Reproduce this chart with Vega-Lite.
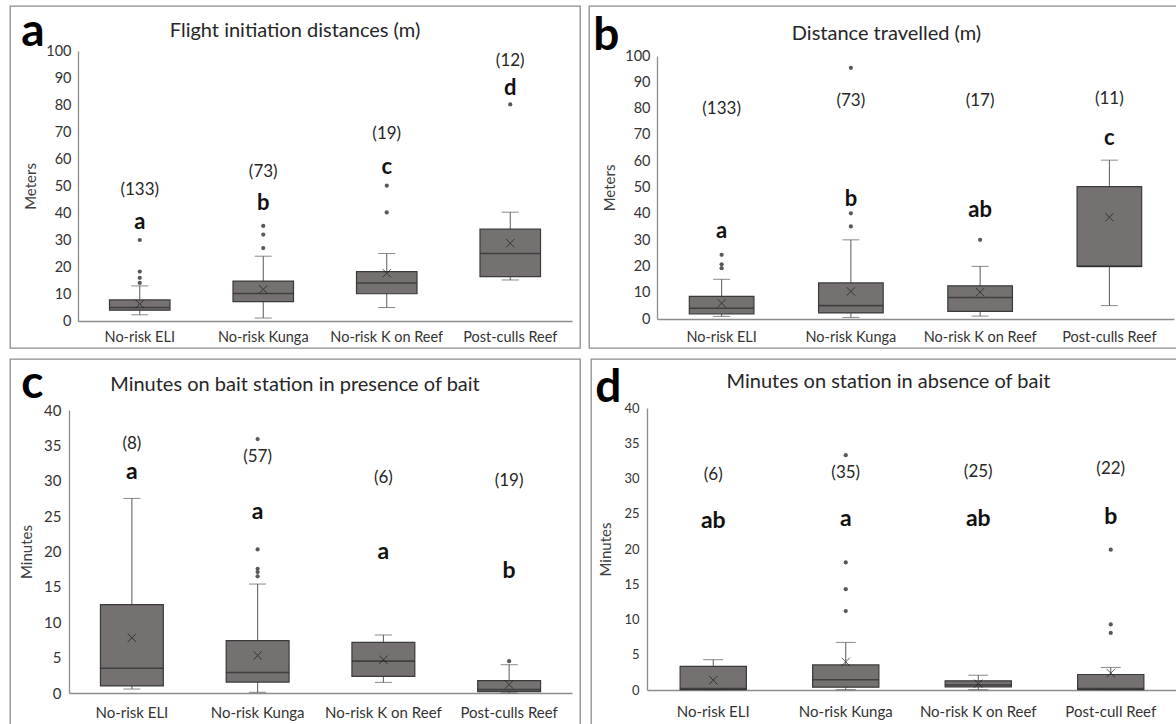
{
  "$schema": "https://vega.github.io/schema/vega-lite/v6.json",
  "padding": {"left": 9, "top": 5, "right": 0, "bottom": 0},
  "background": "white",
  "datasets": {
    "boxes": [
      {"panel": "a", "cat": "No-risk ELI", "q1": 4.0, "q3": 7.8, "med": 5.0, "lo": 2.3, "hi": 13, "mean": 6.3},
      {"panel": "a", "cat": "No-risk Kunga", "q1": 7.2, "q3": 14.8, "med": 10.2, "lo": 1.1, "hi": 24, "mean": 11.7},
      {"panel": "a", "cat": "No-risk K on Reef", "q1": 10.1, "q3": 18.3, "med": 14.1, "lo": 5, "hi": 25, "mean": 17.7},
      {"panel": "a", "cat": "Post-culls Reef", "q1": 16.4, "q3": 34, "med": 25, "lo": 15.2, "hi": 40.3, "mean": 28.8},
      {"panel": "b", "cat": "No-risk ELI", "q1": 1.9, "q3": 8.6, "med": 4.1, "lo": 1.0, "hi": 15.1, "mean": 6.0},
      {"panel": "b", "cat": "No-risk Kunga", "q1": 2.3, "q3": 13.7, "med": 5.1, "lo": 0.6, "hi": 30.1, "mean": 10.5},
      {"panel": "b", "cat": "No-risk K on Reef", "q1": 2.9, "q3": 12.6, "med": 8.2, "lo": 1.1, "hi": 20, "mean": 10.2},
      {"panel": "b", "cat": "Post-culls Reef", "q1": 20, "q3": 50.3, "med": 20, "lo": 5.1, "hi": 60.4, "mean": 38.7},
      {"panel": "c", "cat": "No-risk ELI", "q1": 1.0, "q3": 12.5, "med": 3.5, "lo": 0.56, "hi": 27.5, "mean": 7.8},
      {"panel": "c", "cat": "No-risk Kunga", "q1": 1.55, "q3": 7.4, "med": 2.9, "lo": 0.1, "hi": 15.4, "mean": 5.3},
      {"panel": "c", "cat": "No-risk K on Reef", "q1": 2.35, "q3": 7.15, "med": 4.5, "lo": 1.5, "hi": 8.2, "mean": 4.7},
      {"panel": "c", "cat": "Post-culls Reef", "q1": 0.2, "q3": 1.75, "med": 0.47, "lo": 0, "hi": 4.0, "mean": 1.2},
      {"panel": "d", "cat": "No-risk ELI", "q1": 0.05, "q3": 3.35, "med": 0.2, "lo": 0.05, "hi": 4.3, "mean": 1.4},
      {"panel": "d", "cat": "No-risk Kunga", "q1": 0.4, "q3": 3.55, "med": 1.45, "lo": 0.05, "hi": 6.75, "mean": 4.0},
      {"panel": "d", "cat": "No-risk K on Reef", "q1": 0.45, "q3": 1.3, "med": 0.7, "lo": 0.05, "hi": 2.1, "mean": 0.9},
      {"panel": "d", "cat": "Post-cull Reef", "q1": 0.05, "q3": 2.2, "med": 0.2, "lo": 0.05, "hi": 3.2, "mean": 2.4}
    ],
    "outliers": [
      {"panel": "a", "cat": "No-risk ELI", "v": 30},
      {"panel": "a", "cat": "No-risk ELI", "v": 18.3},
      {"panel": "a", "cat": "No-risk ELI", "v": 16},
      {"panel": "a", "cat": "No-risk ELI", "v": 14.1},
      {"panel": "a", "cat": "No-risk Kunga", "v": 27},
      {"panel": "a", "cat": "No-risk Kunga", "v": 32},
      {"panel": "a", "cat": "No-risk Kunga", "v": 35.2},
      {"panel": "a", "cat": "No-risk K on Reef", "v": 40.2},
      {"panel": "a", "cat": "No-risk K on Reef", "v": 50.1},
      {"panel": "a", "cat": "Post-culls Reef", "v": 80.2},
      {"panel": "b", "cat": "No-risk ELI", "v": 24.4},
      {"panel": "b", "cat": "No-risk ELI", "v": 20.8},
      {"panel": "b", "cat": "No-risk ELI", "v": 19.3},
      {"panel": "b", "cat": "No-risk Kunga", "v": 35.2},
      {"panel": "b", "cat": "No-risk Kunga", "v": 40.2},
      {"panel": "b", "cat": "No-risk Kunga", "v": 95.5},
      {"panel": "b", "cat": "No-risk K on Reef", "v": 30.1},
      {"panel": "c", "cat": "No-risk Kunga", "v": 20.3},
      {"panel": "c", "cat": "No-risk Kunga", "v": 17.55},
      {"panel": "c", "cat": "No-risk Kunga", "v": 17.1},
      {"panel": "c", "cat": "No-risk Kunga", "v": 16.5},
      {"panel": "c", "cat": "No-risk Kunga", "v": 35.9},
      {"panel": "c", "cat": "Post-culls Reef", "v": 4.5},
      {"panel": "d", "cat": "No-risk Kunga", "v": 11.2},
      {"panel": "d", "cat": "No-risk Kunga", "v": 14.3},
      {"panel": "d", "cat": "No-risk Kunga", "v": 18.1},
      {"panel": "d", "cat": "No-risk Kunga", "v": 33.3},
      {"panel": "d", "cat": "Post-cull Reef", "v": 8.1},
      {"panel": "d", "cat": "Post-cull Reef", "v": 9.3},
      {"panel": "d", "cat": "Post-cull Reef", "v": 19.9}
    ],
    "labels": [
      {"panel": "a", "cat": "No-risk ELI", "n": "(133)", "ny": 48.4, "letter": "a", "ly": 36.6},
      {"panel": "a", "cat": "No-risk Kunga", "n": "(73)", "ny": 55.3, "letter": "b", "ly": 43.6},
      {"panel": "a", "cat": "No-risk K on Reef", "n": "(19)", "ny": 69.2, "letter": "c", "ly": 57},
      {"panel": "a", "cat": "Post-culls Reef", "n": "(12)", "ny": 96.2, "letter": "d", "ly": 86.2},
      {"panel": "b", "cat": "No-risk ELI", "n": "(133)", "ny": 79.8, "letter": "a", "ly": 33.6},
      {"panel": "b", "cat": "No-risk Kunga", "n": "(73)", "ny": 82.8, "letter": "b", "ly": 45.5},
      {"panel": "b", "cat": "No-risk K on Reef", "n": "(17)", "ny": 82.8, "letter": "ab", "ly": 41.6},
      {"panel": "b", "cat": "Post-culls Reef", "n": "(11)", "ny": 83.8, "letter": "c", "ly": 68.8},
      {"panel": "c", "cat": "No-risk ELI", "n": "(8)", "ny": 35.2, "letter": "a", "ly": 31.2},
      {"panel": "c", "cat": "No-risk Kunga", "n": "(57)", "ny": 33.3, "letter": "a", "ly": 25.6},
      {"panel": "c", "cat": "No-risk K on Reef", "n": "(6)", "ny": 30.4, "letter": "a", "ly": 20},
      {"panel": "c", "cat": "Post-culls Reef", "n": "(19)", "ny": 29.9, "letter": "b", "ly": 17.3},
      {"panel": "d", "cat": "No-risk ELI", "n": "(6)", "ny": 30.5, "letter": "ab", "ly": 24},
      {"panel": "d", "cat": "No-risk Kunga", "n": "(35)", "ny": 30.8, "letter": "a", "ly": 24.2},
      {"panel": "d", "cat": "No-risk K on Reef", "n": "(25)", "ny": 30.9, "letter": "ab", "ly": 24.2},
      {"panel": "d", "cat": "Post-cull Reef", "n": "(22)", "ny": 31.3, "letter": "b", "ly": 24.5}
    ]
  },
  "spacing": 9,
  "vconcat": [
    {
      "spacing": 7,
      "hconcat": [
        {
          "title": {"text": "a", "anchor": "start", "offset": -51, "dx": 12, "fontSize": 46, "fontWeight": "bold", "color": "#000000"},
          "vconcat": [
            {
              "width": 570, "height": 342,
              "title": {"text": "Flight initiation distances (m)", "offset": -35},
              "encoding": {
                "x": {"field": "cat", "type": "nominal", "sort": ["No-risk ELI", "No-risk Kunga", "No-risk K on Reef", "Post-culls Reef"],
                      "scale": {"range": [68, 562], "paddingInner": 0, "paddingOuter": 0},
                      "axis": {"title": null, "offset": -27, "labelPadding": 9, "labelAngle": 0}}
              },
              "layer": [
                {"data": {"name": "boxes"}, "transform": [{"filter": "datum.panel === 'a'"}], "mark": {"type": "rule", "color": "#595959", "strokeWidth": 1},
                 "encoding": {"y": {"field": "lo", "type": "quantitative", "scale": {"domain": [0, 100], "range": [315, 45], "nice": false}, "axis": {"title": "Meters", "values": [0,10,20,30,40,50,60,70,80,90,100], "labelOverlap": false, "offset": -68, "labelPadding": 7, "titlePadding": 7}}, "y2": {"field": "hi"}}},
                {"data": {"name": "boxes"}, "transform": [{"filter": "datum.panel === 'a'"}], "mark": {"type": "tick", "color": "#595959", "size": 17, "thickness": 1},
                 "encoding": {"y": {"field": "lo", "type": "quantitative", "scale": {"domain": [0, 100], "range": [315, 45], "nice": false}, "axis": {"title": "Meters", "values": [0,10,20,30,40,50,60,70,80,90,100], "labelOverlap": false, "offset": -68, "labelPadding": 7, "titlePadding": 7}}}},
                {"data": {"name": "boxes"}, "transform": [{"filter": "datum.panel === 'a'"}], "mark": {"type": "tick", "color": "#595959", "size": 17, "thickness": 1},
                 "encoding": {"y": {"field": "hi", "type": "quantitative", "scale": {"domain": [0, 100], "range": [315, 45], "nice": false}, "axis": {"title": "Meters", "values": [0,10,20,30,40,50,60,70,80,90,100], "labelOverlap": false, "offset": -68, "labelPadding": 7, "titlePadding": 7}}}},
                {"data": {"name": "boxes"}, "transform": [{"filter": "datum.panel === 'a'"}], "mark": {"type": "bar", "fill": "#767171", "stroke": "#3a3a3a", "strokeWidth": 1.2, "width": {"band": 0.49}},
                 "encoding": {"y": {"field": "q1", "type": "quantitative", "scale": {"domain": [0, 100], "range": [315, 45], "nice": false}, "axis": {"title": "Meters", "values": [0,10,20,30,40,50,60,70,80,90,100], "labelOverlap": false, "offset": -68, "labelPadding": 7, "titlePadding": 7}}, "y2": {"field": "q3"}}},
                {"data": {"name": "boxes"}, "transform": [{"filter": "datum.panel === 'a'"}], "mark": {"type": "tick", "color": "#2a2a2a", "size": 60, "thickness": 1.6},
                 "encoding": {"y": {"field": "med", "type": "quantitative", "scale": {"domain": [0, 100], "range": [315, 45], "nice": false}, "axis": {"title": "Meters", "values": [0,10,20,30,40,50,60,70,80,90,100], "labelOverlap": false, "offset": -68, "labelPadding": 7, "titlePadding": 7}}}},
                {"data": {"name": "boxes"}, "transform": [{"filter": "datum.panel === 'a'"}], "mark": {"type": "point", "shape": "M-1,-1L1,1M-1,1L1,-1", "filled": false, "stroke": "#1a1a1a", "strokeWidth": 1, "size": 70},
                 "encoding": {"y": {"field": "mean", "type": "quantitative", "scale": {"domain": [0, 100], "range": [315, 45], "nice": false}, "axis": {"title": "Meters", "values": [0,10,20,30,40,50,60,70,80,90,100], "labelOverlap": false, "offset": -68, "labelPadding": 7, "titlePadding": 7}}}},
                {"data": {"name": "outliers"}, "transform": [{"filter": "datum.panel === 'a'"}], "mark": {"type": "circle", "color": "#595959", "opacity": 1, "size": 18},
                 "encoding": {"y": {"field": "v", "type": "quantitative", "scale": {"domain": [0, 100], "range": [315, 45], "nice": false}, "axis": {"title": "Meters", "values": [0,10,20,30,40,50,60,70,80,90,100], "labelOverlap": false, "offset": -68, "labelPadding": 7, "titlePadding": 7}}}},
                {"data": {"name": "labels"}, "transform": [{"filter": "datum.panel === 'a'"}], "mark": {"type": "text", "fontSize": 17, "color": "#262626", "baseline": "middle"},
                 "encoding": {"y": {"field": "ny", "type": "quantitative", "scale": {"domain": [0, 100], "range": [315, 45], "nice": false}, "axis": {"title": "Meters", "values": [0,10,20,30,40,50,60,70,80,90,100], "labelOverlap": false, "offset": -68, "labelPadding": 7, "titlePadding": 7}}, "text": {"field": "n"}}},
                {"data": {"name": "labels"}, "transform": [{"filter": "datum.panel === 'a'"}], "mark": {"type": "text", "fontSize": 22, "fontWeight": "bold", "color": "#111111", "baseline": "middle"},
                 "encoding": {"y": {"field": "ly", "type": "quantitative", "scale": {"domain": [0, 100], "range": [315, 45], "nice": false}, "axis": {"title": "Meters", "values": [0,10,20,30,40,50,60,70,80,90,100], "labelOverlap": false, "offset": -68, "labelPadding": 7, "titlePadding": 7}}, "text": {"field": "letter"}}}
              ]
            }
          ]
        },
        {
          "title": {"text": "b", "anchor": "start", "offset": -55, "dx": 5, "fontSize": 46, "fontWeight": "bold", "color": "#000000"},
          "vconcat": [
            {
              "width": 595, "height": 342,
              "title": {"text": "Distance travelled (m)", "offset": -38},
              "encoding": {
                "x": {"field": "cat", "type": "nominal", "sort": ["No-risk ELI", "No-risk Kunga", "No-risk K on Reef", "Post-culls Reef"],
                      "scale": {"range": [68, 585], "paddingInner": 0, "paddingOuter": 0},
                      "axis": {"title": null, "offset": -29, "labelPadding": 11, "labelAngle": 0}}
              },
              "layer": [
                {"data": {"name": "boxes"}, "transform": [{"filter": "datum.panel === 'b'"}], "mark": {"type": "rule", "color": "#595959", "strokeWidth": 1},
                 "encoding": {"y": {"field": "lo", "type": "quantitative", "scale": {"domain": [0, 100], "range": [313, 50], "nice": false}, "axis": {"title": "Meters", "values": [0,10,20,30,40,50,60,70,80,90,100], "labelOverlap": false, "offset": -68, "labelPadding": 7, "titlePadding": 7}}, "y2": {"field": "hi"}}},
                {"data": {"name": "boxes"}, "transform": [{"filter": "datum.panel === 'b'"}], "mark": {"type": "tick", "color": "#595959", "size": 17, "thickness": 1},
                 "encoding": {"y": {"field": "lo", "type": "quantitative", "scale": {"domain": [0, 100], "range": [313, 50], "nice": false}, "axis": {"title": "Meters", "values": [0,10,20,30,40,50,60,70,80,90,100], "labelOverlap": false, "offset": -68, "labelPadding": 7, "titlePadding": 7}}}},
                {"data": {"name": "boxes"}, "transform": [{"filter": "datum.panel === 'b'"}], "mark": {"type": "tick", "color": "#595959", "size": 17, "thickness": 1},
                 "encoding": {"y": {"field": "hi", "type": "quantitative", "scale": {"domain": [0, 100], "range": [313, 50], "nice": false}, "axis": {"title": "Meters", "values": [0,10,20,30,40,50,60,70,80,90,100], "labelOverlap": false, "offset": -68, "labelPadding": 7, "titlePadding": 7}}}},
                {"data": {"name": "boxes"}, "transform": [{"filter": "datum.panel === 'b'"}], "mark": {"type": "bar", "fill": "#767171", "stroke": "#3a3a3a", "strokeWidth": 1.2, "width": {"band": 0.5}},
                 "encoding": {"y": {"field": "q1", "type": "quantitative", "scale": {"domain": [0, 100], "range": [313, 50], "nice": false}, "axis": {"title": "Meters", "values": [0,10,20,30,40,50,60,70,80,90,100], "labelOverlap": false, "offset": -68, "labelPadding": 7, "titlePadding": 7}}, "y2": {"field": "q3"}}},
                {"data": {"name": "boxes"}, "transform": [{"filter": "datum.panel === 'b'"}], "mark": {"type": "tick", "color": "#2a2a2a", "size": 64, "thickness": 1.6},
                 "encoding": {"y": {"field": "med", "type": "quantitative", "scale": {"domain": [0, 100], "range": [313, 50], "nice": false}, "axis": {"title": "Meters", "values": [0,10,20,30,40,50,60,70,80,90,100], "labelOverlap": false, "offset": -68, "labelPadding": 7, "titlePadding": 7}}}},
                {"data": {"name": "boxes"}, "transform": [{"filter": "datum.panel === 'b'"}], "mark": {"type": "point", "shape": "M-1,-1L1,1M-1,1L1,-1", "filled": false, "stroke": "#1a1a1a", "strokeWidth": 1, "size": 70},
                 "encoding": {"y": {"field": "mean", "type": "quantitative", "scale": {"domain": [0, 100], "range": [313, 50], "nice": false}, "axis": {"title": "Meters", "values": [0,10,20,30,40,50,60,70,80,90,100], "labelOverlap": false, "offset": -68, "labelPadding": 7, "titlePadding": 7}}}},
                {"data": {"name": "outliers"}, "transform": [{"filter": "datum.panel === 'b'"}], "mark": {"type": "circle", "color": "#595959", "opacity": 1, "size": 18},
                 "encoding": {"y": {"field": "v", "type": "quantitative", "scale": {"domain": [0, 100], "range": [313, 50], "nice": false}, "axis": {"title": "Meters", "values": [0,10,20,30,40,50,60,70,80,90,100], "labelOverlap": false, "offset": -68, "labelPadding": 7, "titlePadding": 7}}}},
                {"data": {"name": "labels"}, "transform": [{"filter": "datum.panel === 'b'"}], "mark": {"type": "text", "fontSize": 17, "color": "#262626", "baseline": "middle"},
                 "encoding": {"y": {"field": "ny", "type": "quantitative", "scale": {"domain": [0, 100], "range": [313, 50], "nice": false}, "axis": {"title": "Meters", "values": [0,10,20,30,40,50,60,70,80,90,100], "labelOverlap": false, "offset": -68, "labelPadding": 7, "titlePadding": 7}}, "text": {"field": "n"}}},
                {"data": {"name": "labels"}, "transform": [{"filter": "datum.panel === 'b'"}], "mark": {"type": "text", "fontSize": 22, "fontWeight": "bold", "color": "#111111", "baseline": "middle"},
                 "encoding": {"y": {"field": "ly", "type": "quantitative", "scale": {"domain": [0, 100], "range": [313, 50], "nice": false}, "axis": {"title": "Meters", "values": [0,10,20,30,40,50,60,70,80,90,100], "labelOverlap": false, "offset": -68, "labelPadding": 7, "titlePadding": 7}}, "text": {"field": "letter"}}}
              ]
            }
          ]
        }
      ]
    },
    {
      "spacing": 9,
      "hconcat": [
        {
          "title": {"text": "c", "anchor": "start", "offset": -50, "dx": 12, "fontSize": 46, "fontWeight": "bold", "color": "#000000"},
          "vconcat": [
            {
              "width": 570, "height": 380,
              "title": {"text": "Minutes on bait station in presence of bait", "offset": -36},
              "encoding": {
                "x": {"field": "cat", "type": "nominal", "sort": ["No-risk ELI", "No-risk Kunga", "No-risk K on Reef", "Post-culls Reef"],
                      "scale": {"range": [59, 562], "paddingInner": 0, "paddingOuter": 0},
                      "axis": {"title": null, "offset": -46, "labelPadding": 12, "labelAngle": 0, "labelFontSize": 15}}
              },
              "layer": [
                {"data": {"name": "boxes"}, "transform": [{"filter": "datum.panel === 'c'"}], "mark": {"type": "rule", "color": "#595959", "strokeWidth": 1},
                 "encoding": {"y": {"field": "lo", "type": "quantitative", "scale": {"domain": [0, 40], "range": [334, 51], "nice": false}, "axis": {"title": "Minutes", "values": [0,5,10,15,20,25,30,35,40], "labelOverlap": false, "offset": -59, "labelPadding": 8, "titlePadding": 9, "labelFontSize": 15}}, "y2": {"field": "hi"}}},
                {"data": {"name": "boxes"}, "transform": [{"filter": "datum.panel === 'c'"}], "mark": {"type": "tick", "color": "#595959", "size": 17, "thickness": 1},
                 "encoding": {"y": {"field": "lo", "type": "quantitative", "scale": {"domain": [0, 40], "range": [334, 51], "nice": false}, "axis": {"title": "Minutes", "values": [0,5,10,15,20,25,30,35,40], "labelOverlap": false, "offset": -59, "labelPadding": 8, "titlePadding": 9, "labelFontSize": 15}}}},
                {"data": {"name": "boxes"}, "transform": [{"filter": "datum.panel === 'c'"}], "mark": {"type": "tick", "color": "#595959", "size": 17, "thickness": 1},
                 "encoding": {"y": {"field": "hi", "type": "quantitative", "scale": {"domain": [0, 40], "range": [334, 51], "nice": false}, "axis": {"title": "Minutes", "values": [0,5,10,15,20,25,30,35,40], "labelOverlap": false, "offset": -59, "labelPadding": 8, "titlePadding": 9, "labelFontSize": 15}}}},
                {"data": {"name": "boxes"}, "transform": [{"filter": "datum.panel === 'c'"}], "mark": {"type": "bar", "fill": "#767171", "stroke": "#3a3a3a", "strokeWidth": 1.2, "width": {"band": 0.5}},
                 "encoding": {"y": {"field": "q1", "type": "quantitative", "scale": {"domain": [0, 40], "range": [334, 51], "nice": false}, "axis": {"title": "Minutes", "values": [0,5,10,15,20,25,30,35,40], "labelOverlap": false, "offset": -59, "labelPadding": 8, "titlePadding": 9, "labelFontSize": 15}}, "y2": {"field": "q3"}}},
                {"data": {"name": "boxes"}, "transform": [{"filter": "datum.panel === 'c'"}], "mark": {"type": "tick", "color": "#2a2a2a", "size": 63, "thickness": 1.6},
                 "encoding": {"y": {"field": "med", "type": "quantitative", "scale": {"domain": [0, 40], "range": [334, 51], "nice": false}, "axis": {"title": "Minutes", "values": [0,5,10,15,20,25,30,35,40], "labelOverlap": false, "offset": -59, "labelPadding": 8, "titlePadding": 9, "labelFontSize": 15}}}},
                {"data": {"name": "boxes"}, "transform": [{"filter": "datum.panel === 'c'"}], "mark": {"type": "point", "shape": "M-1,-1L1,1M-1,1L1,-1", "filled": false, "stroke": "#1a1a1a", "strokeWidth": 1, "size": 70},
                 "encoding": {"y": {"field": "mean", "type": "quantitative", "scale": {"domain": [0, 40], "range": [334, 51], "nice": false}, "axis": {"title": "Minutes", "values": [0,5,10,15,20,25,30,35,40], "labelOverlap": false, "offset": -59, "labelPadding": 8, "titlePadding": 9, "labelFontSize": 15}}}},
                {"data": {"name": "outliers"}, "transform": [{"filter": "datum.panel === 'c'"}], "mark": {"type": "circle", "color": "#595959", "opacity": 1, "size": 18},
                 "encoding": {"y": {"field": "v", "type": "quantitative", "scale": {"domain": [0, 40], "range": [334, 51], "nice": false}, "axis": {"title": "Minutes", "values": [0,5,10,15,20,25,30,35,40], "labelOverlap": false, "offset": -59, "labelPadding": 8, "titlePadding": 9, "labelFontSize": 15}}}},
                {"data": {"name": "labels"}, "transform": [{"filter": "datum.panel === 'c'"}], "mark": {"type": "text", "fontSize": 17, "color": "#262626", "baseline": "middle"},
                 "encoding": {"y": {"field": "ny", "type": "quantitative", "scale": {"domain": [0, 40], "range": [334, 51], "nice": false}, "axis": {"title": "Minutes", "values": [0,5,10,15,20,25,30,35,40], "labelOverlap": false, "offset": -59, "labelPadding": 8, "titlePadding": 9, "labelFontSize": 15}}, "text": {"field": "n"}}},
                {"data": {"name": "labels"}, "transform": [{"filter": "datum.panel === 'c'"}], "mark": {"type": "text", "fontSize": 23, "fontWeight": "bold", "color": "#111111", "baseline": "middle"},
                 "encoding": {"y": {"field": "ly", "type": "quantitative", "scale": {"domain": [0, 40], "range": [334, 51], "nice": false}, "axis": {"title": "Minutes", "values": [0,5,10,15,20,25,30,35,40], "labelOverlap": false, "offset": -59, "labelPadding": 8, "titlePadding": 9, "labelFontSize": 15}}, "text": {"field": "letter"}}}
              ]
            }
          ]
        },
        {
          "title": {"text": "d", "anchor": "start", "offset": -54, "dx": 5, "fontSize": 46, "fontWeight": "bold", "color": "#000000"},
          "vconcat": [
            {
              "width": 595, "height": 380,
              "title": {"text": "Minutes on station in absence of bait", "offset": -33},
              "encoding": {
                "x": {"field": "cat", "type": "nominal", "sort": ["No-risk ELI", "No-risk Kunga", "No-risk K on Reef", "Post-cull Reef"],
                      "scale": {"range": [56, 586], "paddingInner": 0, "paddingOuter": 0},
                      "axis": {"title": null, "offset": -49, "labelPadding": 14, "labelAngle": 0, "labelFontSize": 15}}
              },
              "layer": [
                {"data": {"name": "boxes"}, "transform": [{"filter": "datum.panel === 'd'"}], "mark": {"type": "rule", "color": "#595959", "strokeWidth": 1},
                 "encoding": {"y": {"field": "lo", "type": "quantitative", "scale": {"domain": [0, 40], "range": [331, 49], "nice": false}, "axis": {"title": "Minutes", "values": [0,5,10,15,20,25,30,35,40], "labelOverlap": false, "offset": -56, "labelPadding": 8, "titlePadding": 10, "labelFontSize": 13}}, "y2": {"field": "hi"}}},
                {"data": {"name": "boxes"}, "transform": [{"filter": "datum.panel === 'd'"}], "mark": {"type": "tick", "color": "#595959", "size": 20, "thickness": 1},
                 "encoding": {"y": {"field": "lo", "type": "quantitative", "scale": {"domain": [0, 40], "range": [331, 49], "nice": false}, "axis": {"title": "Minutes", "values": [0,5,10,15,20,25,30,35,40], "labelOverlap": false, "offset": -56, "labelPadding": 8, "titlePadding": 10, "labelFontSize": 13}}}},
                {"data": {"name": "boxes"}, "transform": [{"filter": "datum.panel === 'd'"}], "mark": {"type": "tick", "color": "#595959", "size": 20, "thickness": 1},
                 "encoding": {"y": {"field": "hi", "type": "quantitative", "scale": {"domain": [0, 40], "range": [331, 49], "nice": false}, "axis": {"title": "Minutes", "values": [0,5,10,15,20,25,30,35,40], "labelOverlap": false, "offset": -56, "labelPadding": 8, "titlePadding": 10, "labelFontSize": 13}}}},
                {"data": {"name": "boxes"}, "transform": [{"filter": "datum.panel === 'd'"}], "mark": {"type": "bar", "fill": "#767171", "stroke": "#3a3a3a", "strokeWidth": 1.2, "width": {"band": 0.5}},
                 "encoding": {"y": {"field": "q1", "type": "quantitative", "scale": {"domain": [0, 40], "range": [331, 49], "nice": false}, "axis": {"title": "Minutes", "values": [0,5,10,15,20,25,30,35,40], "labelOverlap": false, "offset": -56, "labelPadding": 8, "titlePadding": 10, "labelFontSize": 13}}, "y2": {"field": "q3"}}},
                {"data": {"name": "boxes"}, "transform": [{"filter": "datum.panel === 'd'"}], "mark": {"type": "tick", "color": "#2a2a2a", "size": 66, "thickness": 1.6},
                 "encoding": {"y": {"field": "med", "type": "quantitative", "scale": {"domain": [0, 40], "range": [331, 49], "nice": false}, "axis": {"title": "Minutes", "values": [0,5,10,15,20,25,30,35,40], "labelOverlap": false, "offset": -56, "labelPadding": 8, "titlePadding": 10, "labelFontSize": 13}}}},
                {"data": {"name": "boxes"}, "transform": [{"filter": "datum.panel === 'd'"}], "mark": {"type": "point", "shape": "M-1,-1L1,1M-1,1L1,-1", "filled": false, "stroke": "#1a1a1a", "strokeWidth": 1, "size": 70},
                 "encoding": {"y": {"field": "mean", "type": "quantitative", "scale": {"domain": [0, 40], "range": [331, 49], "nice": false}, "axis": {"title": "Minutes", "values": [0,5,10,15,20,25,30,35,40], "labelOverlap": false, "offset": -56, "labelPadding": 8, "titlePadding": 10, "labelFontSize": 13}}}},
                {"data": {"name": "outliers"}, "transform": [{"filter": "datum.panel === 'd'"}], "mark": {"type": "circle", "color": "#595959", "opacity": 1, "size": 18},
                 "encoding": {"y": {"field": "v", "type": "quantitative", "scale": {"domain": [0, 40], "range": [331, 49], "nice": false}, "axis": {"title": "Minutes", "values": [0,5,10,15,20,25,30,35,40], "labelOverlap": false, "offset": -56, "labelPadding": 8, "titlePadding": 10, "labelFontSize": 13}}}},
                {"data": {"name": "labels"}, "transform": [{"filter": "datum.panel === 'd'"}], "mark": {"type": "text", "fontSize": 17, "color": "#262626", "baseline": "middle"},
                 "encoding": {"y": {"field": "ny", "type": "quantitative", "scale": {"domain": [0, 40], "range": [331, 49], "nice": false}, "axis": {"title": "Minutes", "values": [0,5,10,15,20,25,30,35,40], "labelOverlap": false, "offset": -56, "labelPadding": 8, "titlePadding": 10, "labelFontSize": 13}}, "text": {"field": "n"}}},
                {"data": {"name": "labels"}, "transform": [{"filter": "datum.panel === 'd'"}], "mark": {"type": "text", "fontSize": 23, "fontWeight": "bold", "color": "#111111", "baseline": "middle"},
                 "encoding": {"y": {"field": "ly", "type": "quantitative", "scale": {"domain": [0, 40], "range": [331, 49], "nice": false}, "axis": {"title": "Minutes", "values": [0,5,10,15,20,25,30,35,40], "labelOverlap": false, "offset": -56, "labelPadding": 8, "titlePadding": 10, "labelFontSize": 13}}, "text": {"field": "letter"}}}
              ]
            }
          ]
        }
      ]
    }
  ],
  "config": {
    "font": "Lato",
    "view": {"stroke": "#8c8c8c", "strokeWidth": 1.3},
    "axis": {"grid": false, "ticks": false, "domainColor": "#8c8c8c", "domainWidth": 1.3, "labelOverlap": false,
             "labelFont": "Lato", "labelFontSize": 14.5, "labelColor": "#333333",
             "titleFont": "Lato", "titleFontSize": 15, "titleFontWeight": "normal", "titleColor": "#404040"},
    "title": {"font": "Lato", "fontSize": 20, "fontWeight": "normal", "color": "#262626", "anchor": "middle"},
    "concat": {"spacing": 0},
    "text": {"font": "Lato"}
  }
}
